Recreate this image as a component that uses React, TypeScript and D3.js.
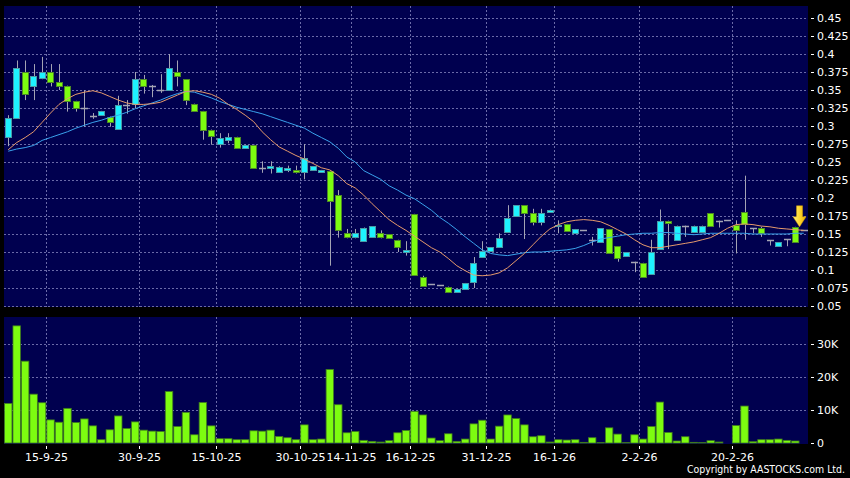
import React from 'react';
import * as d3 from 'd3';

// daily OHLC (one entry per trading slot)
const opens = [
  0.285, 0.311, 0.375, 0.356, 0.366, 0.375, 0.361, 0.356, 0.335, 0.325,
  0.314, 0.315, 0.313, 0.296, 0.329, 0.331, 0.365, 0.356, 0.35, 0.35,
  0.375, 0.365, 0.331, 0.321, 0.295, 0.275, 0.28, 0.285, 0.27, 0.274,
  0.241, 0.241, 0.236, 0.239, 0.239, 0.2365, 0.239, 0.236, 0.238, 0.204,
  0.151, 0.146, 0.14, 0.146, 0.152, 0.15, 0.142, 0.125, 0.178, 0.09,
  0.08, 0.079, 0.076, 0.07, 0.074, 0.083, 0.118, 0.126, 0.1315, 0.153,
  0.175, 0.19, 0.179, 0.166, 0.181, 0.161, 0.164, 0.152, 0.1556, 0.142,
  0.139, 0.157, 0.133, 0.119, 0.1115, 0.11, 0.094, 0.129, 0.1685, 0.142,
  0.1616, 0.153, 0.153, 0.179, 0.1685, 0.169, 0.1625, 0.18, 0.158, 0.159,
  0.141, 0.1333, 0.1426, 0.16, 0.1556,
];
const highs = [
  0.315, 0.391, 0.391, 0.386, 0.396, 0.386, 0.386, 0.356, 0.335, 0.35,
  0.318, 0.321, 0.313, 0.342, 0.336, 0.375, 0.371, 0.357, 0.372, 0.4,
  0.391, 0.365, 0.331, 0.321, 0.295, 0.29, 0.29, 0.285, 0.274, 0.274,
  0.251, 0.251, 0.244, 0.245, 0.245, 0.275, 0.244, 0.239, 0.238, 0.211,
  0.157, 0.157, 0.159, 0.161, 0.155, 0.15, 0.142, 0.14, 0.178, 0.092,
  0.08, 0.079, 0.077, 0.074, 0.082, 0.118, 0.14, 0.1315, 0.151, 0.19,
  0.19, 0.19, 0.185, 0.185, 0.184, 0.169, 0.164, 0.157, 0.1556, 0.146,
  0.158, 0.157, 0.133, 0.125, 0.1115, 0.11, 0.142, 0.184, 0.1685, 0.1616,
  0.1616, 0.1616, 0.1616, 0.179, 0.1685, 0.169, 0.169, 0.231, 0.158, 0.16,
  0.141, 0.1385, 0.1426, 0.16, 0.1556,
];
const lows = [
  0.272, 0.311, 0.336, 0.336, 0.365, 0.355, 0.35, 0.32, 0.32, 0.299,
  0.31, 0.315, 0.299, 0.295, 0.317, 0.325, 0.345, 0.34, 0.346, 0.35,
  0.355, 0.329, 0.321, 0.281, 0.274, 0.27, 0.276, 0.27, 0.27, 0.241,
  0.235, 0.234, 0.236, 0.236, 0.234, 0.226, 0.239, 0.236, 0.106, 0.145,
  0.144, 0.144, 0.14, 0.146, 0.144, 0.145, 0.125, 0.12, 0.093, 0.078,
  0.08, 0.079, 0.068, 0.07, 0.074, 0.075, 0.118, 0.126, 0.1315, 0.153,
  0.175, 0.143, 0.162, 0.162, 0.181, 0.151, 0.154, 0.15, 0.1556, 0.134,
  0.139, 0.124, 0.1115, 0.119, 0.097, 0.09, 0.094, 0.129, 0.129, 0.142,
  0.146, 0.153, 0.153, 0.161, 0.159, 0.169, 0.123, 0.142, 0.151, 0.146,
  0.134, 0.1333, 0.133, 0.139, 0.1556,
];
const closes = [
  0.311, 0.38, 0.345, 0.37, 0.375, 0.361, 0.356, 0.335, 0.325, 0.325,
  0.314, 0.321, 0.306, 0.329, 0.329, 0.365, 0.356, 0.356, 0.35, 0.38,
  0.37, 0.336, 0.321, 0.295, 0.286, 0.284, 0.285, 0.27, 0.274, 0.241,
  0.241, 0.244, 0.2435, 0.242, 0.236, 0.255, 0.244, 0.239, 0.196, 0.156,
  0.146, 0.152, 0.159, 0.161, 0.146, 0.145, 0.132, 0.128, 0.093, 0.078,
  0.08, 0.079, 0.07, 0.074, 0.082, 0.11, 0.126, 0.1315, 0.145, 0.172,
  0.19, 0.179, 0.167, 0.179, 0.184, 0.163, 0.154, 0.1565, 0.1556, 0.142,
  0.158, 0.124, 0.116, 0.125, 0.1115, 0.09, 0.125, 0.1685, 0.165, 0.1616,
  0.1616, 0.1616, 0.1616, 0.161, 0.1685, 0.169, 0.1556, 0.164, 0.158, 0.151,
  0.141, 0.1385, 0.1426, 0.139, 0.1556,
];
// volume in thousands of shares
const volumes = [
  12.0, 35.5, 24.8, 14.8, 12.2, 7.0, 6.3, 10.5, 6.2, 7.3,
  5.2, 1.0, 4.0, 8.2, 4.4, 6.4, 3.9, 3.6, 3.5, 15.6,
  5.0, 9.3, 2.5, 12.3, 5.2, 1.3, 1.3, 1.0, 1.0, 3.7,
  3.6, 3.9, 2.0, 1.6, 1.0, 5.5, 1.0, 1.2, 22.3, 11.6,
  3.1, 3.5, 0.8, 0.5, 0.3, 0.7, 3.1, 3.8, 9.6, 8.5,
  1.5, 0.7, 2.8, 0.5, 1.2, 5.8, 6.9, 1.2, 5.1, 8.5,
  7.4, 5.5, 1.9, 2.2, 0.3, 1.0, 0.9, 1.0, 0.2, 1.6,
  0.1, 4.6, 2.7, 0.1, 2.5, 1.2, 5.0, 12.4, 3.2, 0.6,
  1.9, 0.2, 0.1, 0.7, 0.3, 0, 5.3, 11.2, 0.4, 1.0,
  1.0, 1.2, 0.8, 0.6, 0,
];
// moving average lines as drawn on the chart
const ma10 = [
  0.267, 0.277, 0.284, 0.292, 0.305, 0.318, 0.33, 0.338, 0.344, 0.347,
  0.349, 0.346, 0.341, 0.336, 0.332, 0.33, 0.33, 0.331, 0.333, 0.338,
  0.343, 0.348, 0.349, 0.347, 0.344, 0.3385, 0.33, 0.323, 0.315, 0.306,
  0.292, 0.281, 0.271, 0.265, 0.259, 0.254, 0.248, 0.242, 0.239, 0.231,
  0.22, 0.214, 0.204, 0.192, 0.181, 0.17, 0.162, 0.155, 0.147, 0.139,
  0.131, 0.125, 0.116, 0.106, 0.099, 0.093, 0.092, 0.093, 0.096, 0.103,
  0.113, 0.123, 0.135, 0.147, 0.157, 0.163, 0.167, 0.169, 0.17, 0.169,
  0.167, 0.162, 0.156, 0.15, 0.142, 0.135, 0.131, 0.131, 0.133, 0.135,
  0.137, 0.139, 0.142, 0.145, 0.151, 0.158, 0.163, 0.164, 0.163, 0.161,
  0.16, 0.158, 0.157, 0.156, 0.155,
];
const ma20 = [
  0.265, 0.268, 0.27, 0.273, 0.28, 0.284, 0.288, 0.292, 0.297, 0.301,
  0.305, 0.308, 0.312, 0.315, 0.319, 0.324, 0.328, 0.332, 0.336, 0.341,
  0.345, 0.348, 0.347, 0.343, 0.339, 0.334, 0.33, 0.326, 0.323, 0.32,
  0.317, 0.313, 0.309, 0.305, 0.301, 0.297, 0.29, 0.284, 0.278, 0.269,
  0.257, 0.25, 0.238, 0.232, 0.226, 0.217, 0.211, 0.204, 0.199, 0.191,
  0.183, 0.173, 0.165, 0.156, 0.146, 0.137, 0.128, 0.123, 0.121, 0.12,
  0.122, 0.124, 0.125, 0.125, 0.126, 0.127, 0.128, 0.13, 0.134, 0.139,
  0.143, 0.145, 0.147, 0.149, 0.15, 0.151, 0.151, 0.152, 0.152, 0.151,
  0.15, 0.149, 0.15, 0.151, 0.151, 0.151, 0.151, 0.151, 0.15, 0.15,
  0.15, 0.15, 0.15, 0.151, 0.151,
];

const dateLabels = ['15-9-25', '30-9-25', '15-10-25', '30-10-25', '14-11-25', '16-12-25', '31-12-25', '16-1-26', '2-2-26', '20-2-26'];
const dateSlots = [5, 16, 25, 35, 41, 48, 57, 65, 75, 86];
const priceTicks = [0.05, 0.075, 0.1, 0.125, 0.15, 0.175, 0.2, 0.225, 0.25, 0.275, 0.3, 0.325, 0.35, 0.375, 0.4, 0.425, 0.45];
const volTicks = [0, 10, 20, 30];
const volTickLabels = ['0', '10K', '20K', '30K'];

const W = 850;
const H = 478;
const FONT = 'DejaVu Sans, Verdana, sans-serif';
const PANEL = '#00004f';
const GRID = '#6a6aa8';
const UP = '#1ef2ff';
const UP_EDGE = '#4a9aa6';
const DOWN = '#7dfc10';
const DOWN_EDGE = '#4e8a26';
const WICK = '#a4a4b4';

const App: React.FC = () => {
  const n = closes.length;
  const left = 4;
  const right = 808;
  const priceTop = 6;
  const priceBottom = 307;
  const volTop = 317;
  const volBottom = 444;

  const x = d3.scaleBand<number>().domain(d3.range(n)).range([left, right]).padding(0);
  const bw = x.bandwidth();
  const cx = (i: number) => x(i)! + bw / 2;

  const y = d3.scaleLinear().domain([0.05, 0.45]).range([306, 18]);
  const yv = d3.scaleLinear().domain([0, 30]).range([443, 344]);

  const line = (vals: number[]) =>
    d3.line<number>().x((_, i) => cx(i)).y((v) => y(v))(vals) || '';

  const crisp = (v: number) => Math.round(v) + 0.5;
  const lastIdx = n - 1;
  const arrowX = x(lastIdx)!;
  const arrowTip = y(highs[lastIdx - 1]);

  return (
    <svg
      width={W}
      height={H}
      style={{ position: 'absolute', left: 0, top: 0, display: 'block' }}
      fontFamily={FONT}
    >
      <defs>
        <linearGradient id="arrowFill" x1="0" x2="1" y1="0" y2="0">
          <stop offset="0" stopColor="#fff27a" />
          <stop offset="0.5" stopColor="#ffd630" />
          <stop offset="1" stopColor="#e9b000" />
        </linearGradient>
      </defs>
      <rect x={0} y={0} width={W} height={H} fill="#000" />

      {/* panels */}
      <rect x={left} y={priceTop} width={right - left} height={priceBottom - priceTop} fill={PANEL} />
      <rect x={left} y={volTop} width={right - left} height={volBottom - volTop} fill={PANEL} />

      {/* horizontal grid, price */}
      {priceTicks.map((t) => (
        <g key={'pt' + t}>
          <line x1={left} x2={right} y1={crisp(y(t))} y2={crisp(y(t))} stroke={GRID} strokeDasharray="2,2" />
          <line x1={811} x2={814} y1={crisp(y(t))} y2={crisp(y(t))} stroke="#fff" />
          <text x={817} y={y(t) + 4} fill="#fff" fontSize={11}>
            {String(t)}
          </text>
        </g>
      ))}

      {/* horizontal grid, volume */}
      {volTicks.map((t, i) => (
        <g key={'vt' + t}>
          {t > 0 && (
            <line x1={left} x2={right} y1={crisp(yv(t))} y2={crisp(yv(t))} stroke={GRID} strokeDasharray="2,2" />
          )}
          <line x1={811} x2={814} y1={crisp(yv(t))} y2={crisp(yv(t))} stroke="#fff" />
          <text x={817} y={yv(t) + 4} fill="#fff" fontSize={11}>
            {volTickLabels[i]}
          </text>
        </g>
      ))}

      {/* vertical grid and date labels */}
      {dateSlots.map((s, i) => {
        const gx = crisp(x(s)!);
        return (
          <g key={'d' + s}>
            <line x1={gx} x2={gx} y1={priceTop} y2={priceBottom} stroke={GRID} strokeDasharray="2,2" />
            <line x1={gx} x2={gx} y1={volTop} y2={volBottom} stroke={GRID} strokeDasharray="2,2" />
            <line x1={gx} x2={gx} y1={446} y2={449} stroke="#fff" />
            <text x={gx} y={461} fill="#fff" fontSize={11} textAnchor="middle">
              {dateLabels[i]}
            </text>
          </g>
        );
      })}

      {/* candles */}
      {closes.map((c, i) => {
        const o = opens[i];
        const xc = crisp(cx(i));
        const bx = Math.round(x(i)!) + 1;
        const w = 6;
        const wick = (
          <line x1={xc} x2={xc} y1={y(highs[i])} y2={y(lows[i])} stroke={WICK} strokeWidth={1} />
        );
        if (o === c) {
          return (
            <g key={'c' + i}>
              {wick}
              <line x1={bx} x2={bx + w + 1} y1={crisp(y(c))} y2={crisp(y(c))} stroke={WICK} strokeWidth={1.5} />
            </g>
          );
        }
        const top = y(Math.max(o, c));
        const bot = y(Math.min(o, c));
        const up = c > o;
        return (
          <g key={'c' + i}>
            {wick}
            <rect
              x={bx + 0.5}
              y={Math.round(top) + 0.5}
              width={w}
              height={Math.max(1, Math.round(bot) - Math.round(top))}
              fill={up ? UP : DOWN}
              stroke={up ? UP_EDGE : DOWN_EDGE}
              strokeWidth={1}
            />
          </g>
        );
      })}

      {/* moving averages */}
      <path d={line(ma20)} fill="none" stroke="#3aa2ec" strokeWidth={1} />
      <path d={line(ma10)} fill="none" stroke="#e69a6c" strokeWidth={1} />

      {/* last price arrow */}
      <path
        d={`M${arrowX - 3},${arrowTip - 21} L${arrowX + 3},${arrowTip - 21} L${arrowX + 3},${arrowTip - 10} L${arrowX + 6.5},${arrowTip - 10} L${arrowX},${arrowTip} L${arrowX - 6.5},${arrowTip - 10} L${arrowX - 3},${arrowTip - 10} Z`}
        fill="url(#arrowFill)"
        stroke="#d9a000"
        strokeWidth={0.5}
      />

      {/* volume bars */}
      {volumes.map((v, i) =>
        v > 0 ? (
          <rect
            key={'v' + i}
            x={x(i)! + 0.5}
            y={yv(v)}
            width={bw - 1}
            height={yv(0) - yv(v)}
            fill={DOWN}
            stroke="#3f7a1e"
            strokeWidth={0.8}
          />
        ) : null
      )}

      <text x={845} y={473} fill="#fff" fontSize={10} textAnchor="end" textLength={158} lengthAdjust="spacingAndGlyphs">
        Copyright by AASTOCKS.com Ltd.
      </text>
    </svg>
  );
};

export default App;
